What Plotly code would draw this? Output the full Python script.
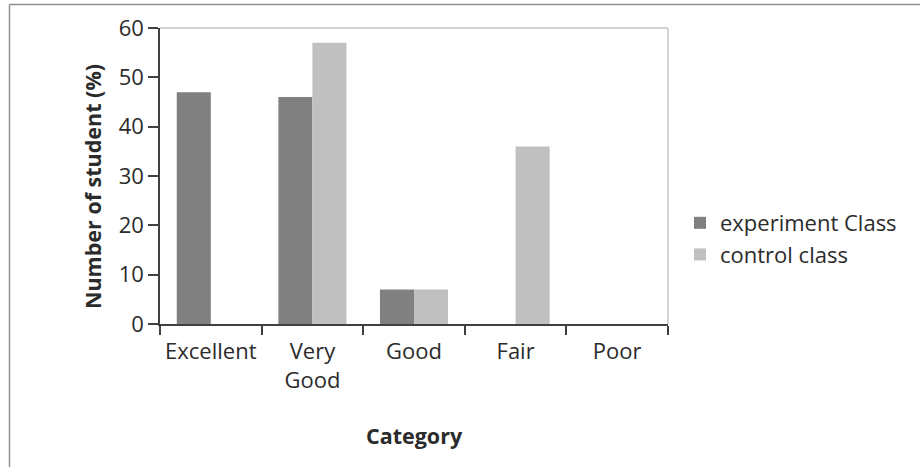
import plotly.graph_objects as go

# Ratings and percentage of students per class
categories = ["Excellent", "Very<br>Good", "Good", "Fair", "Poor"]
experiment_class = [47, 46, 7, 0, 0]
control_class = [0, 57, 7, 36, 0]
series_names = ["experiment Class", "control class"]
y_ticks = [0, 10, 20, 30, 40, 50, 60]

W, H = 920, 467
L, R, T, B = 160, 668, 28, 324  # plot area edges in pixels


def px_x(x):
    return (x - L) / (R - L)


def px_y(y):
    return (B - y) / (B - T)


FONT = "Open Sans"
TXT = "#2b2b2b"
TICK_SIZE = 22

fig = go.Figure()
fig.add_bar(x=categories, y=experiment_class, name=series_names[0],
            marker=dict(color="#808080", line=dict(width=0)))
fig.add_bar(x=categories, y=control_class, name=series_names[1],
            marker=dict(color="#c0c0c0", line=dict(width=0)))

shapes = [
    # outer frame (top and left edges)
    dict(type="line", xref="paper", yref="paper", x0=px_x(9.5), x1=px_x(W + 5),
         y0=px_y(4.5), y1=px_y(4.5), line=dict(color="#8f8f8f", width=1.5)),
    dict(type="line", xref="paper", yref="paper", x0=px_x(9.5), x1=px_x(9.5),
         y0=px_y(4.5), y1=px_y(H + 5), line=dict(color="#8f8f8f", width=1.5)),
    # light plot-area border on top and right
    dict(type="line", xref="paper", yref="paper", x0=0, x1=1, y0=1, y1=1,
         line=dict(color="#d4d4d4", width=2), layer="below"),
    dict(type="line", xref="paper", yref="paper", x0=1, x1=1, y0=0, y1=1,
         line=dict(color="#d4d4d4", width=2), layer="below"),
]

annotations = [
    dict(text="<b>Number of student (%)</b>", xref="paper", yref="paper",
         x=px_x(92), y=px_y(187), textangle=-90, showarrow=False,
         font=dict(family=FONT, size=21.5, color=TXT), xanchor="center", yanchor="middle"),
    dict(text="<b>Category</b>", xref="paper", yref="paper",
         x=px_x(414), y=px_y(435), showarrow=False,
         font=dict(family=FONT, size=21.5, color=TXT), xanchor="center", yanchor="middle"),
]

fig.update_layout(
    width=W, height=H,
    margin=dict(l=L, r=W - R, t=T, b=H - B, pad=0),
    paper_bgcolor="white", plot_bgcolor="white",
    barmode="group", bargap=0.33, bargroupgap=0,
    font=dict(family=FONT, size=TICK_SIZE, color=TXT),
    showlegend=True,
    legend=dict(x=px_x(680), y=px_y(239), xanchor="left", yanchor="middle",
                font=dict(family=FONT, size=TICK_SIZE, color=TXT),
                itemwidth=30, tracegroupgap=0, bgcolor="rgba(0,0,0,0)"),
    shapes=shapes,
    annotations=annotations,
    xaxis=dict(
        type="category", range=[-0.5, 4.5], tickson="boundaries",
        ticks="outside", ticklen=9, tickwidth=1.5, tickcolor="#404040",
        showline=True, linecolor="#404040", linewidth=1.5,
        showgrid=False, zeroline=False, ticklabelstandoff=7,
        tickfont=dict(family=FONT, size=TICK_SIZE, color=TXT),
    ),
    yaxis=dict(
        range=[0, 60], tickvals=y_ticks,
        ticks="outside", ticklen=10, tickwidth=1.5, tickcolor="#404040",
        showline=True, linecolor="#404040", linewidth=1.5,
        showgrid=False, zeroline=False,
        tickfont=dict(family=FONT, size=TICK_SIZE, color=TXT),
    ),
)

fig.write_html("out.html")
